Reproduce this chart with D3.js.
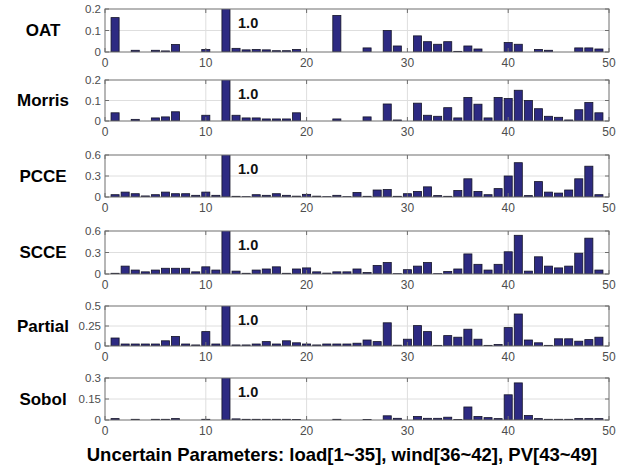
<!DOCTYPE html>
<html>
<head>
<meta charset="utf-8">
<script src="https://cdn.jsdelivr.net/npm/d3@7"></script>
<style>
  html, body { margin: 0; padding: 0; background: #fff; }
  svg { display: block; }
</style>
</head>
<body>
<svg id="chart" width="638" height="470"></svg>
<script>
const params = [1,2,3,4,5,6,7,8,9,10,11,12,13,14,15,16,17,18,19,20,21,22,23,24,25,26,27,28,29,30,31,32,33,34,35,36,37,38,39,40,41,42,43,44,45,46,47,48,49];
const methodNames = ["OAT", "Morris", "PCCE", "SCCE", "Partial", "Sobol"];
const xTicks = [0, 10, 20, 30, 40, 50];

const oat = [0.16,0,0.008,0,0.008,0.005,0.035,0,0,0.012,
  0,1.0,0.017,0.01,0.012,0.01,0.006,0.006,0.012,0,
  0,0,0.17,0,0,0.019,0,0.1,0.028,0,
  0.075,0.048,0.036,0.048,0.003,0.028,0.014,0,0,0.044,
  0.036,0,0.012,0.008,0,0,0.019,0.019,0.014];
const morris = [0.04,0,0.008,0,0.015,0.02,0.045,0,0,0.028,
  0,1.0,0.028,0.015,0.015,0.01,0.01,0.01,0.04,0,
  0,0,0.01,0,0,0.02,0,0.083,0.005,0,
  0.087,0.028,0.023,0.065,0.015,0.115,0.082,0.015,0.115,0.11,
  0.15,0.1,0.06,0.023,0.018,0.005,0.055,0.09,0.04];
const pcce = [0.033,0.07,0.047,0.015,0.033,0.07,0.047,0.047,0.024,0.07,
  0.024,1.0,0.01,0.005,0.033,0.024,0.047,0.024,0.012,0.038,
  0.012,0.005,0.024,0.005,0.065,0.01,0.1,0.107,0.01,0.047,
  0.08,0.145,0.02,0.01,0.093,0.26,0.08,0.033,0.12,0.3,
  0.49,0.02,0.22,0.07,0.056,0.1,0.26,0.44,0.033];
const scce = [0.01,0.11,0.055,0.03,0.055,0.08,0.08,0.08,0.03,0.1,
  0.055,1.0,0.04,0.01,0.055,0.07,0.1,0.01,0.07,0.085,
  0.03,0.012,0.03,0.03,0.07,0.02,0.12,0.16,0.005,0.06,
  0.11,0.16,0.005,0.035,0.07,0.28,0.135,0.055,0.135,0.31,
  0.54,0.04,0.24,0.11,0.085,0.11,0.29,0.5,0.055];
const partial = [0.1,0.025,0.025,0.025,0.025,0.065,0.12,0.025,0.013,0.18,
  0.025,1.0,0.013,0.013,0.025,0.055,0.025,0.065,0.04,0.025,
  0.013,0.025,0.025,0.025,0.035,0.075,0.055,0.29,0.01,0.085,
  0.255,0.18,0.008,0.13,0.11,0.21,0.085,0.008,0.02,0.23,
  0.4,0.075,0.04,0.008,0.09,0.09,0.06,0.08,0.11];
const sobol = [0.01,0,0.005,0,0.005,0.005,0.01,0,0,0.005,
  0,1.0,0.008,0.005,0.005,0.005,0.005,0.005,0.004,0,
  0,0,0.005,0,0,0.004,0,0.03,0.012,0,
  0.025,0.012,0.012,0.02,0.003,0.093,0.025,0.017,0.01,0.18,
  0.265,0.032,0.01,0.005,0.005,0.005,0.01,0.01,0.01];

const yMaxes = [0.2, 0.2, 0.6, 0.6, 0.5, 0.3];
const yTickSets = [[0,0.1,0.2],[0,0.1,0.2],[0,0.3,0.6],[0,0.3,0.6],[0,0.25,0.5],[0,0.15,0.3]];
const peakLabel = "1.0";
const peakLabelX = 13.2;
const xLabel = "Uncertain Parameters: load[1~35], wind[36~42], PV[43~49]";

const series = [oat, morris, pcce, scce, partial, sobol];

const svg = d3.select("#chart");
const left = 105, right = 609;
const tops = [9, 80, 155, 231, 306, 378];
const bottoms = [52, 121, 197, 274, 346, 420];

const x = d3.scaleLinear().domain([0, 50]).range([left, right]);
const barW = x(0.8) - x(0);
const fontFam = "'Liberation Sans', Arial, Helvetica, sans-serif";
const barFill = "#2d2a82";
const axisCol = "#6e6e6e";
const gridCol = "#dedede";
const tickTxt = "#4d4d4d";

series.forEach((vals, k) => {
  const y = d3.scaleLinear().domain([0, yMaxes[k]]).range([bottoms[k], tops[k]]);
  const g = svg.append("g");
  const clipId = "clip" + k;
  svg.append("clipPath").attr("id", clipId)
    .append("rect").attr("x", left).attr("y", tops[k])
    .attr("width", right - left).attr("height", bottoms[k] - tops[k]);

  // grid
  g.selectAll("line.gx").data(xTicks.slice(1, -1)).join("line")
    .attr("x1", d => x(d)).attr("x2", d => x(d))
    .attr("y1", tops[k]).attr("y2", bottoms[k])
    .attr("stroke", gridCol).attr("stroke-width", 1);
  g.selectAll("line.gy").data(yTickSets[k].slice(1, -1)).join("line")
    .attr("x1", left).attr("x2", right)
    .attr("y1", d => y(d)).attr("y2", d => y(d))
    .attr("stroke", gridCol).attr("stroke-width", 1);

  // bars
  g.append("g").attr("clip-path", `url(#${clipId})`)
    .selectAll("rect").data(params).join("rect")
    .attr("x", (p) => x(p) - barW / 2)
    .attr("width", barW)
    .attr("y", (p, i) => y(Math.min(vals[i], yMaxes[k] * 1.05)))
    .attr("height", (p, i) => Math.max(0, y(0) - y(Math.min(vals[i], yMaxes[k] * 1.05))))
    .attr("fill", barFill)
    .attr("stroke", "#141428")
    .attr("stroke-width", 0.8);

  // axes box
  g.append("rect").attr("x", left).attr("y", tops[k])
    .attr("width", right - left).attr("height", bottoms[k] - tops[k])
    .attr("fill", "none").attr("stroke", axisCol).attr("stroke-width", 1);

  // tick marks (inside)
  xTicks.forEach(t => {
    g.append("line").attr("x1", x(t)).attr("x2", x(t))
      .attr("y1", bottoms[k]).attr("y2", bottoms[k] - 4)
      .attr("stroke", axisCol);
    g.append("line").attr("x1", x(t)).attr("x2", x(t))
      .attr("y1", tops[k]).attr("y2", tops[k] + 4)
      .attr("stroke", axisCol);
  });
  yTickSets[k].forEach(t => {
    g.append("line").attr("x1", left).attr("x2", left + 4)
      .attr("y1", y(t)).attr("y2", y(t)).attr("stroke", axisCol);
    g.append("line").attr("x1", right).attr("x2", right - 4)
      .attr("y1", y(t)).attr("y2", y(t)).attr("stroke", axisCol);
  });

  // y tick labels
  g.selectAll("text.yt").data(yTickSets[k]).join("text")
    .attr("x", left - 4).attr("y", d => y(d))
    .attr("dy", "0.35em")
    .attr("text-anchor", "end")
    .attr("font-family", fontFam).attr("font-size", 11.5)
    .attr("fill", tickTxt)
    .text(d => d === 0 ? "0" : String(d));

  // x tick labels
  g.selectAll("text.xt").data(xTicks).join("text")
    .attr("x", d => x(d)).attr("y", bottoms[k] + 15)
    .attr("text-anchor", "middle")
    .attr("font-family", fontFam).attr("font-size", 12)
    .attr("fill", tickTxt)
    .text(d => d);

  // method label
  g.append("text").attr("x", 43).attr("y", (tops[k] + bottoms[k]) / 2)
    .attr("dy", "0.35em")
    .attr("text-anchor", "middle")
    .attr("font-family", fontFam).attr("font-size", 17).attr("font-weight", "bold")
    .attr("fill", "#000")
    .text(methodNames[k]);

  // 1.0 label
  g.append("text").attr("x", x(peakLabelX)).attr("y", tops[k] + 19)
    .attr("font-family", fontFam).attr("font-size", 14.5).attr("font-weight", "bold")
    .attr("fill", "#111")
    .text(peakLabel);
});

svg.append("text").attr("x", 342).attr("y", 461)
  .attr("text-anchor", "middle")
  .attr("font-family", fontFam).attr("font-size", 18.5).attr("font-weight", "bold")
  .attr("fill", "#000")
  .text(xLabel);
</script>
</body>
</html>
